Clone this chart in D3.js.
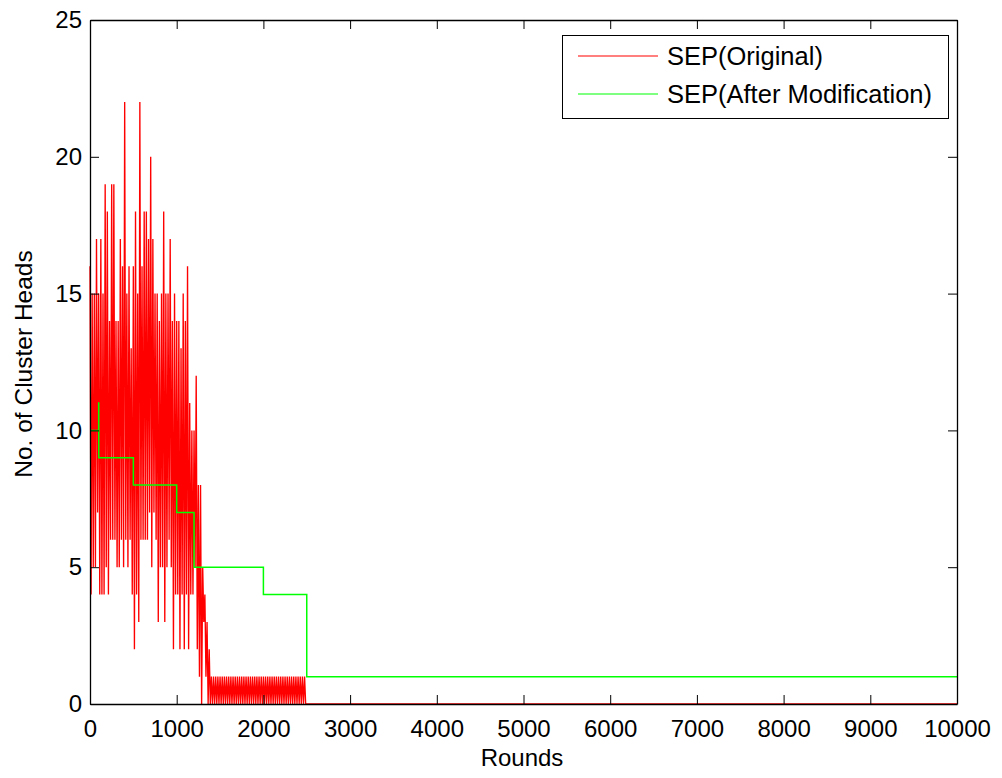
<!DOCTYPE html>
<html>
<head>
<meta charset="utf-8">
<script src="https://cdn.jsdelivr.net/npm/d3@7"></script>
<style>
  body { margin: 0; background: #fff; }
  text { font-family: Arial, "Liberation Sans", sans-serif; }
</style>
</head>
<body>
<div id="chart"></div>
<script>
// tick labels
var xTicks = [0, 1000, 2000, 3000, 4000, 5000, 6000, 7000, 8000, 9000, 10000];
var yTicks = [0, 5, 10, 15, 20, 25];

// SEP(Original): peak / trough per 25-round slot
var redStep = 25;
var redHigh = [16,15,15,17,15,17,15,19,18,14,
               19,19,14,14,17,16,22,15,16,13,
               16,18,15,22,16,18,18,17,20,17,
               15,15,14,15,18,15,15,17,14,15,
               14,14,13,15,14,16,11,10,10,12,
               8,8,5,4,3,2,
               1,1,1,1,1,1,1,1,1,1,1,1,1,1,1,1,1,1,1,1,1,1,
               1,1,1,1,1,1,1,1,1,1,1,1,1,1,1,1,1,1,1,1,1,1];
var redLow  = [4,5,5,7,4,4,4,5,4,6,
               6,6,5,5,6,5,6,5,6,4,
               2,4,3,6,6,6,6,7,5,7,
               6,3,5,5,3,5,6,5,2,4,
               4,2,4,2,4,2,4,4,5,2,
               1,0,3,1,0,0,
               0,0,0,0,0,0,0,0,0,0,0,0,0,0,0,0,0,0,0,0,0,0,
               0,0,0,0,0,0,0,0,0,0,0,0,0,0,0,0,0,0,0,0,0,0];
var redTailRounds = [2500, 10000];
var redTailValues = [0, 0];

// SEP(After Modification): step changes
var greenRounds = [0, 100, 101, 500, 1000, 1200, 2000, 2500, 10000];
var greenValues = [10, 11, 9, 8, 7, 5, 4, 1, 1];

var seriesNames = ["SEP(Original)", "SEP(After Modification)"];
var seriesColors = ["#ff0000", "#00ff00"];

var svg = d3.select("#chart").append("svg")
    .attr("width", 1002)
    .attr("height", 778);

var x = d3.scaleLinear().domain([0, 10000]).range([90, 957]);
var y = d3.scaleLinear().domain([0, 25]).range([704, 20]);

// build red points: each slot goes up to its peak, then down to its trough
var redPts = [];
for (var i = 0; i < redHigh.length; i++) {
  redPts.push([i * redStep, redHigh[i]]);
  redPts.push([i * redStep + redStep / 2, redLow[i]]);
}
for (var j = 0; j < redTailRounds.length; j++) {
  redPts.push([redTailRounds[j], redTailValues[j]]);
}
var greenPts = greenRounds.map(function(r, i) { return [r, greenValues[i]]; });

var line = d3.line().x(function(d) { return x(d[0]); }).y(function(d) { return y(d[1]); });
var stepLine = d3.line().curve(d3.curveStepAfter)
    .x(function(d) { return x(d[0]); }).y(function(d) { return y(d[1]); });

svg.append("path").datum(redPts)
    .attr("d", line)
    .attr("fill", "none")
    .attr("stroke", seriesColors[0])
    .attr("stroke-width", 1.35);

svg.append("path").datum(greenPts)
    .attr("d", stepLine)
    .attr("fill", "none")
    .attr("stroke", seriesColors[1])
    .attr("stroke-width", 1.5);

// axes (ticks inward)
function styleAxis(g) {
  g.attr("font-size", null).attr("font-family", null);
  g.selectAll("text").attr("font-size", 24).attr("fill", "#000");
  g.selectAll("line").attr("stroke", "#000");
  g.select(".domain").attr("stroke", "#000").attr("stroke-width", 1.3);
}

var fmt = d3.format("d");

svg.append("g").attr("transform", "translate(0,704)")
    .call(d3.axisBottom(x).tickValues(xTicks).tickFormat(fmt).tickSizeInner(-9).tickSizeOuter(0).tickPadding(16))
    .call(styleAxis);
svg.append("g").attr("transform", "translate(0,20)")
    .call(d3.axisTop(x).tickValues(xTicks).tickSizeInner(-9).tickSizeOuter(0).tickFormat(""))
    .call(styleAxis);
svg.append("g").attr("transform", "translate(90,0)")
    .call(d3.axisLeft(y).tickValues(yTicks).tickFormat(fmt).tickSizeInner(-9).tickSizeOuter(0).tickPadding(8))
    .call(styleAxis);
svg.append("g").attr("transform", "translate(957,0)")
    .call(d3.axisRight(y).tickValues(yTicks).tickSizeInner(-9).tickSizeOuter(0).tickFormat(""))
    .call(styleAxis);

// axis titles
svg.append("text")
    .attr("x", 522).attr("y", 766)
    .attr("text-anchor", "middle")
    .attr("font-size", 24)
    .text("Rounds");

svg.append("text")
    .attr("transform", "translate(32,364) rotate(-90)")
    .attr("text-anchor", "middle")
    .attr("font-size", 24.5)
    .text("No. of Cluster Heads");

// legend
var legend = svg.append("g");
legend.append("rect")
    .attr("x", 562.5).attr("y", 35.5)
    .attr("width", 386).attr("height", 83)
    .attr("fill", "#fff")
    .attr("stroke", "#000")
    .attr("stroke-width", 1);

seriesNames.forEach(function(name, i) {
  var ly = 56 + i * 38;
  legend.append("line")
      .attr("x1", 578).attr("x2", 658)
      .attr("y1", ly).attr("y2", ly)
      .attr("stroke", seriesColors[i])
      .attr("stroke-width", 1.2);
  legend.append("text")
      .attr("x", 667).attr("y", ly + 9)
      .attr("font-size", 25.5)
      .text(name);
});
</script>
</body>
</html>
